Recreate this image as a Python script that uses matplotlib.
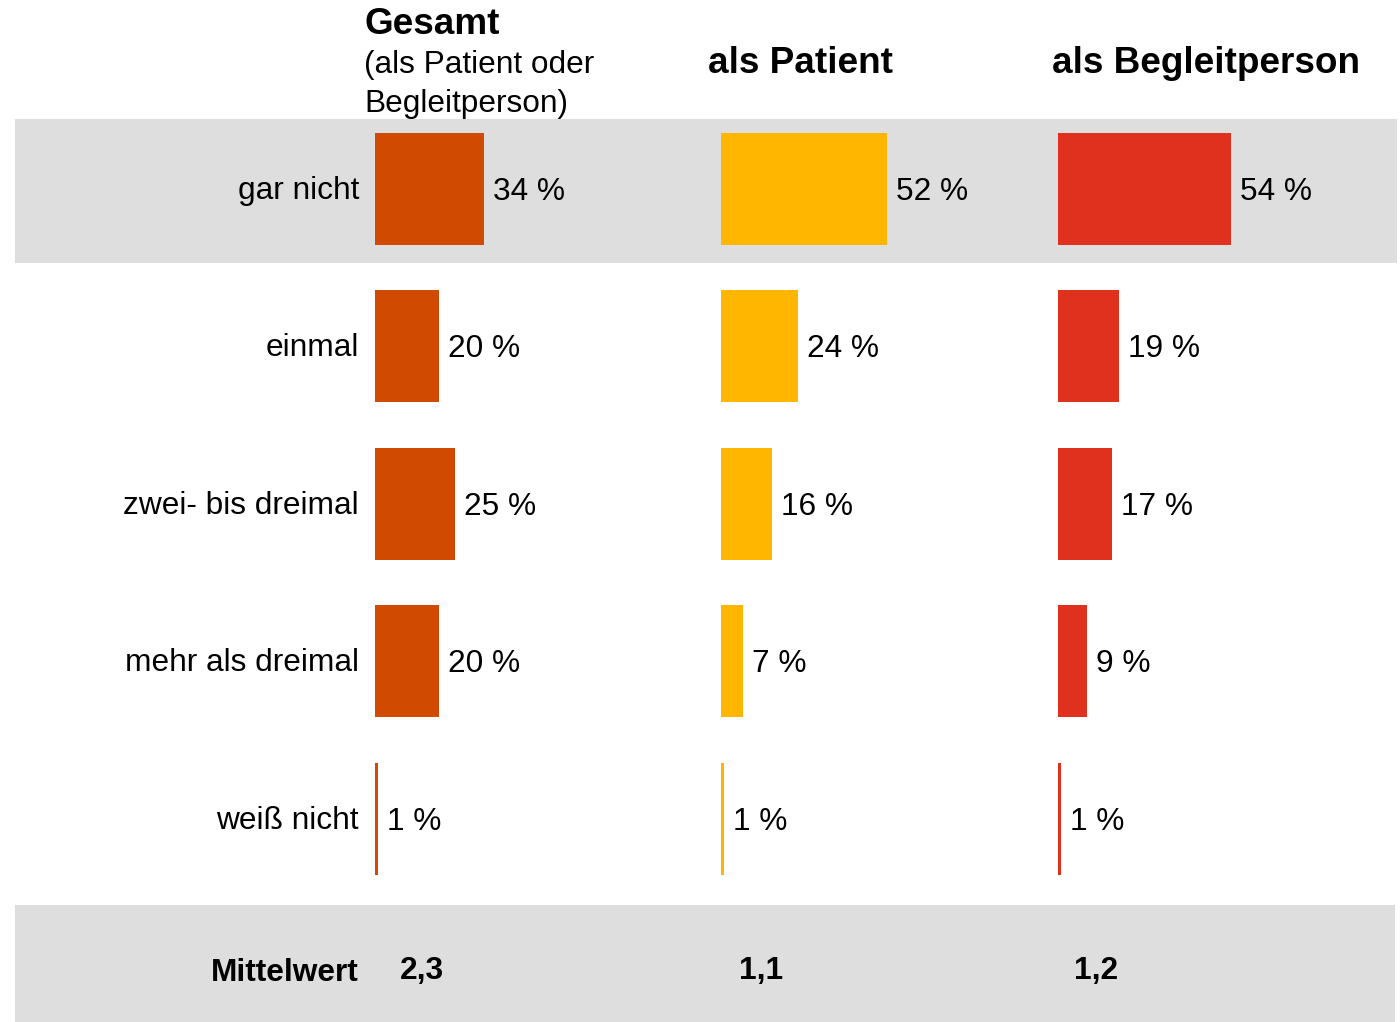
import matplotlib
matplotlib.use("Agg")
import matplotlib.pyplot as plt
from matplotlib.patches import Rectangle

plt.rcParams['font.family'] = ['Liberation Sans', 'DejaVu Sans']

categories = ["gar nicht", "einmal", "zwei- bis dreimal", "mehr als dreimal", "weiß nicht"]
gesamt = [34, 20, 25, 20, 1]
patient = [52, 24, 16, 7, 1]
begleit = [54, 19, 17, 9, 1]
mittelwerte = ["2,3", "1,1", "1,2"]
colors = ["#D04A02", "#FFB600", "#E0301E"]
series = [gesamt, patient, begleit]

W, H = 1400, 1022
fig = plt.figure(figsize=(W / 100, H / 100), dpi=100)

# overlay axes in pixel coordinates for bands and text
bg = fig.add_axes([0, 0, 1, 1])
bg.set_xlim(0, W)
bg.set_ylim(H, 0)
bg.axis('off')
bg.add_patch(Rectangle((15, 119), 1382, 144, color="#DEDEDE", lw=0, zorder=0))
bg.add_patch(Rectangle((15, 905), 1380, 117, color="#DEDEDE", lw=0, zorder=0))

# bar axes
row_top, row_h = 110, 157.5
n = len(categories)
px_per_pct = 3.2
lefts = [375, 721, 1058]
axes_w = 100 * px_per_pct
for left, vals, col in zip(lefts, series, colors):
    ax = fig.add_axes([left / W, 1 - (row_top + n * row_h) / H, axes_w / W, n * row_h / H])
    ax.set_xlim(0, 100)
    ax.set_ylim(n, 0)
    ax.axis('off')
    ax.patch.set_alpha(0)
    ys = [i + 0.5 for i in range(n)]
    ax.barh(ys, vals, height=112 / row_h, color=col, left=0, linewidth=0)
    for y, v in zip(ys, vals):
        ax.text(v + 9 / px_per_pct, y + 11 / row_h, f"{v} %", fontsize=22.8,
                va='baseline', ha='left', color='#000000')

# row labels
for i, c in enumerate(categories):
    bg.text(359, row_top + (i + 0.5) * row_h + 10, c, fontsize=22.8,
            ha='right', va='baseline', color='#000000')

# headers
bg.text(364, 34, "Gesamt", fontsize=26.6, fontweight='bold', ha='left', va='baseline')
bg.text(364, 73, "(als Patient oder", fontsize=22.8, ha='left', va='baseline')
bg.text(364, 112, "Begleitperson)", fontsize=22.8, ha='left', va='baseline')
bg.text(800, 73, "als Patient", fontsize=26.6, fontweight='bold', ha='center', va='baseline')
bg.text(1206, 73, "als Begleitperson", fontsize=26.6, fontweight='bold', ha='center', va='baseline')

# Mittelwert
bg.text(359, 981, "Mittelwert", fontsize=22.8, fontweight='bold', ha='right', va='baseline')
for x, m in zip([422, 761, 1096], mittelwerte):
    bg.text(x, 979, m, fontsize=22.8, fontweight='bold', ha='center', va='baseline')

fig.savefig("out.png", dpi=100)
